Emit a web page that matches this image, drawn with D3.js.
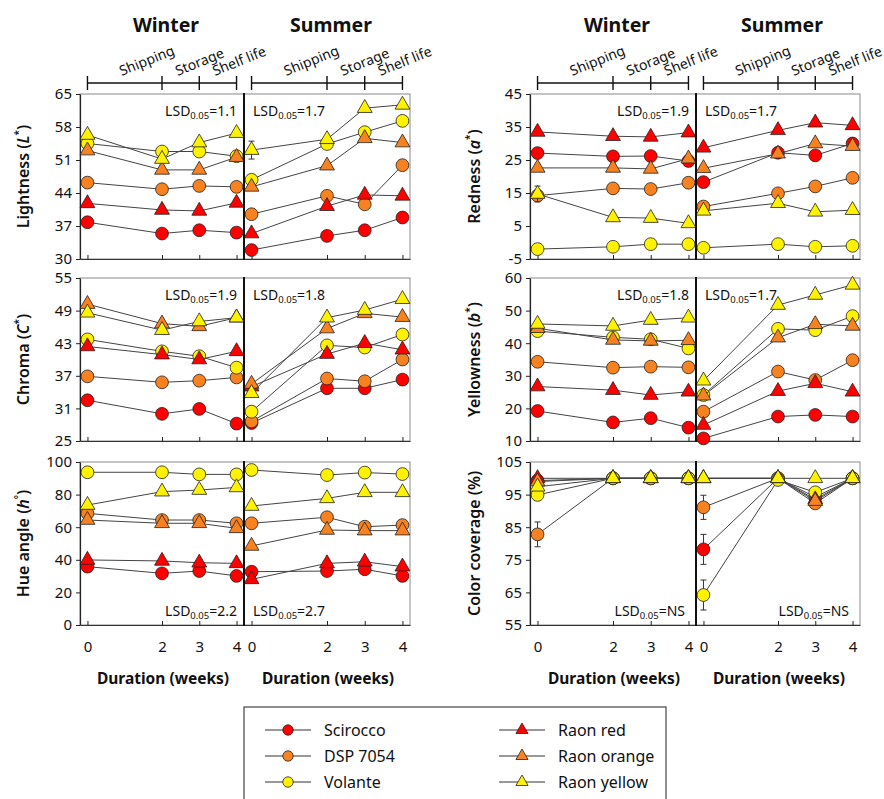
<!DOCTYPE html>
<html>
<head>
<meta charset="utf-8">
<script src="https://cdn.jsdelivr.net/npm/d3@7"></script>
<style>
  body { margin: 0; background: #fff; }
  svg { font-family: "Noto Sans", sans-serif; }
</style>
</head>
<body>
<svg id="chart" width="884" height="799"></svg>
<script>
var cultivars = ["Scirocco", "DSP 7054", "Volante", "Raon red", "Raon orange", "Raon yellow"];
var cultivarColors = ["#ff0000", "#f7821f", "#fff200", "#ff0000", "#f7821f", "#fff200"];
var cultivarShapes = ["circle", "circle", "circle", "triangle", "triangle", "triangle"];
var weeks = [0, 2, 3, 4];
var seasons = ["Winter", "Summer"];
var phases = ["Shipping", "Storage", "Shelf life"];

// one row per cultivar (same order as cultivars), one value per week
var lightnessWinter = [
  [37.8, 35.4, 36.1, 35.6],
  [46.2, 44.8, 45.5, 45.3],
  [54.5, 52.8, 52.8, 51.8],
  [41.8, 40.4, 40.2, 41.9],
  [53.0, 48.9, 48.9, 51.6],
  [56.3, 51.2, 54.7, 56.7]];
var lightnessSummer = [
  [31.9, 34.9, 36.1, 38.8],
  [39.5, 43.4, 41.6, 49.9],
  [46.8, 54.4, 56.9, 59.3],
  [35.4, 41.2, 43.6, 43.4],
  [45.3, 49.8, 55.6, 54.7],
  [53.1, 55.4, 62.0, 62.7]];
var chromaWinter = [
  [32.5, 30.0, 30.9, 28.2],
  [36.9, 35.8, 36.1, 36.7],
  [43.7, 41.5, 40.6, 38.5],
  [42.4, 40.9, 40.0, 41.5],
  [50.2, 46.6, 46.1, 47.7],
  [48.6, 45.4, 47.0, 47.7]];
var chromaSummer = [
  [28.3, 34.7, 34.7, 36.3],
  [28.6, 36.5, 36.0, 40.0],
  [30.4, 42.6, 42.2, 44.6],
  [35.0, 41.0, 43.0, 41.8],
  [35.5, 45.7, 48.5, 47.8],
  [33.8, 47.7, 49.1, 51.1]];
var hueWinter = [
  [35.8, 31.7, 33.1, 30.1],
  [68.5, 64.4, 64.4, 62.4],
  [93.7, 93.7, 92.4, 92.4],
  [39.9, 39.3, 38.2, 37.8],
  [64.4, 62.4, 62.4, 59.3],
  [73.6, 81.8, 82.8, 84.4]];
var hueSummer = [
  [32.7, 33.1, 34.2, 30.1],
  [62.4, 66.1, 60.3, 61.3],
  [95.1, 92.0, 93.5, 92.6],
  [28.0, 37.8, 38.8, 35.8],
  [48.5, 58.3, 57.9, 57.9],
  [73.0, 77.7, 81.4, 81.4]];
var rednessWinter = [
  [27.1, 26.1, 26.2, 24.7],
  [14.2, 16.4, 16.2, 18.1],
  [-2.0, -1.3, -0.5, -0.5],
  [33.5, 32.2, 32.0, 33.3],
  [22.6, 22.6, 22.3, 25.4],
  [14.7, 7.6, 7.4, 5.8]];
var rednessSummer = [
  [18.3, 27.2, 26.4, 30.0],
  [10.9, 14.9, 17.0, 19.6],
  [-1.6, -0.5, -1.3, -1.0],
  [28.7, 34.0, 36.3, 35.5],
  [22.5, 26.9, 30.0, 29.2],
  [9.6, 11.9, 9.3, 9.8]];
var yellownessWinter = [
  [19.2, 15.7, 17.0, 14.1],
  [34.3, 32.5, 32.8, 32.6],
  [43.7, 41.8, 41.2, 38.4],
  [26.7, 25.6, 24.1, 25.1],
  [44.6, 41.0, 40.7, 40.9],
  [45.9, 45.3, 47.1, 47.8]];
var yellownessSummer = [
  [10.8, 17.5, 18.0, 17.5],
  [19.0, 31.3, 28.7, 34.8],
  [24.1, 44.4, 44.0, 48.3],
  [14.9, 25.3, 27.7, 25.1],
  [23.9, 41.7, 45.8, 45.3],
  [28.5, 51.7, 54.8, 57.9]];
var coverageWinter = [
  [99.3, 100, 100, 100],
  [82.8, 100, 100, 100],
  [94.9, 100, 100, 100],
  [100, 100, 100, 100],
  [99.0, 100, 100, 100],
  [97.4, 100, 100, 100]];
var coverageSummer = [
  [78.2, 100, 94.2, 100],
  [91.1, 100, 92.3, 100],
  [64.2, 99.5, 95.7, 100],
  [100, 100, 93.5, 100],
  [100, 100, 93.0, 100],
  [100, 100, 100, 100]];

// [panel, season, cultivar index, week, half-width]
var errorBars = [
  ["lightness", 1, 5, 0, 1.9],
  ["redness", 0, 5, 0, 2.4],
  ["coverage", 0, 1, 0, 3.8],
  ["coverage", 1, 1, 0, 3.7],
  ["coverage", 1, 0, 0, 4.6],
  ["coverage", 1, 2, 0, 4.6]];

var lightnessTicks = [30, 37, 44, 51, 58, 65];
var chromaTicks = [25, 31, 37, 43, 49, 55];
var hueTicks = [0, 20, 40, 60, 80, 100];
var rednessTicks = [-5, 5, 15, 25, 35, 45];
var yellownessTicks = [10, 20, 30, 40, 50, 60];
var coverageTicks = [55, 65, 75, 85, 95, 105];

var lightnessLsd = ["1.1", "1.7"];
var chromaLsd = ["1.9", "1.8"];
var hueLsd = ["2.2", "2.7"];
var rednessLsd = ["1.9", "1.7"];
var yellownessLsd = ["1.8", "1.7"];
var coverageLsd = ["NS", "NS"];

(function () {

  var svg = d3.select("#chart");

  // layout
  var cols = [
    { seasons: [[80, 244], [244, 410]], labelX: 29 },
    { seasons: [[530, 696], [696, 860]], labelX: 480 }
  ];
  var rows = [[94, 259], [278, 441], [462, 625]];

  var panels = [
    { key: "lightness", col: 0, row: 0, ticks: lightnessTicks, data: [lightnessWinter, lightnessSummer], lsd: lightnessLsd,
      label: [["Lightness (", ""], ["L", "i"], ["*", "sup"], [")", ""]], lsdTop: true, lsdAnchor: ["end", "start"] },
    { key: "chroma", col: 0, row: 1, ticks: chromaTicks, data: [chromaWinter, chromaSummer], lsd: chromaLsd,
      label: [["Chroma (", ""], ["C", "i"], ["*", "sup"], [")", ""]], lsdTop: true, lsdAnchor: ["end", "start"] },
    { key: "hue", col: 0, row: 2, ticks: hueTicks, data: [hueWinter, hueSummer], lsd: hueLsd,
      label: [["Hue angle (", ""], ["h", "i"], ["°", "sup"], [")", ""]], lsdTop: false, lsdAnchor: ["end", "start"] },
    { key: "redness", col: 1, row: 0, ticks: rednessTicks, data: [rednessWinter, rednessSummer], lsd: rednessLsd,
      label: [["Redness (", ""], ["a", "i"], ["*", "sup"], [")", ""]], lsdTop: true, lsdAnchor: ["end", "start"] },
    { key: "yellowness", col: 1, row: 1, ticks: yellownessTicks, data: [yellownessWinter, yellownessSummer], lsd: yellownessLsd,
      label: [["Yellowness (", ""], ["b", "i"], ["*", "sup"], [")", ""]], lsdTop: true, lsdAnchor: ["end", "start"] },
    { key: "coverage", col: 1, row: 2, ticks: coverageTicks, data: [coverageWinter, coverageSummer], lsd: coverageLsd,
      label: [["Color coverage (%)", ""]], lsdTop: false, lsdAnchor: ["end", "end"] }
  ];

  var triangle = d3.symbol().type(d3.symbolTriangle).size(96);
  var triangleSmall = d3.symbol().type(d3.symbolTriangle).size(64);

  function xScale(col, s) {
    return d3.scaleLinear().domain([-0.2, 4.2]).range(cols[col].seasons[s]);
  }

  function drawMarker(sel, i, small) {
    if (cultivarShapes[i] === "circle") {
      sel.append("circle").attr("r", small ? 5.2 : 6.4);
    } else {
      sel.append("path").attr("d", small ? triangleSmall : triangle);
    }
    sel.selectAll("circle,path")
      .attr("fill", cultivarColors[i])
      .attr("stroke", "#222")
      .attr("stroke-width", 0.8);
  }

  panels.forEach(function (p) {
    var col = cols[p.col];
    var top = rows[p.row][0], bottom = rows[p.row][1];
    var left = col.seasons[0][0], right = col.seasons[1][1];
    var y = d3.scaleLinear().domain([p.ticks[0], p.ticks[p.ticks.length - 1]]).range([bottom, top]);
    var g = svg.append("g").attr("class", "panel " + p.key);

    // frame
    g.append("rect")
      .attr("x", left).attr("y", top)
      .attr("width", right - left).attr("height", bottom - top)
      .attr("fill", "none").attr("stroke", "#8a8a8a").attr("stroke-width", 1);

    // y axis
    var yAxis = g.append("g")
      .attr("transform", "translate(" + left + ",0)")
      .call(d3.axisLeft(y).tickValues(p.ticks).tickSize(4).tickSizeOuter(0).tickPadding(4)
        .tickFormat(function (d) { return String(d); }));
    yAxis.select(".domain").attr("stroke", "#222").attr("stroke-width", 1.2);
    yAxis.selectAll(".tick line").attr("stroke", "#222");
    yAxis.selectAll("text").attr("font-size", 15).attr("fill", "#111")
      .attr("font-family", "Noto Sans, sans-serif");

    // y label
    var lab = g.append("text")
      .attr("transform", "translate(" + col.labelX + "," + ((top + bottom) / 2) + ") rotate(-90)")
      .attr("text-anchor", "middle")
      .attr("font-size", 16).attr("font-weight", 600).attr("fill", "#111");
    p.label.forEach(function (part, k) {
      var t = lab.append("tspan").text(part[0]);
      if (part[1] === "i") t.attr("font-style", "italic");
      if (part[1] === "sup") t.attr("font-size", 10).attr("dy", -7);
      else if (k > 0 && p.label[k - 1][1] === "sup") t.attr("dy", 7);
    });

    seasons.forEach(function (season, s) {
      var x = xScale(p.col, s);

      // x axis
      var xAxis = g.append("g")
        .attr("transform", "translate(0," + bottom + ")")
        .call(d3.axisBottom(x).tickValues(weeks).tickSize(-4).tickSizeOuter(0).tickPadding(16)
          .tickFormat(p.row === 2 ? d3.format("d") : ""));
      xAxis.select(".domain").attr("stroke", "#333").attr("stroke-width", 1);
      xAxis.selectAll(".tick line").attr("stroke", "#222");
      xAxis.selectAll("text").attr("font-size", 15).attr("fill", "#111")
        .attr("font-family", "Noto Sans, sans-serif");

      var line = d3.line()
        .x(function (d, k) { return x(weeks[k]); })
        .y(function (d) { return y(d); });

      var series = g.selectAll(".series-" + s)
        .data(p.data[s])
        .enter().append("g")
        .attr("class", "series-" + s);

      series.append("path")
        .attr("d", function (d) { return line(d); })
        .attr("fill", "none")
        .attr("stroke", "#444")
        .attr("stroke-width", 1);

      // error bars
      errorBars.filter(function (e) { return e[0] === p.key && e[1] === s; }).forEach(function (e) {
        var v = p.data[s][e[2]][weeks.indexOf(e[3])];
        var cx = x(e[3]);
        var eb = series.filter(function (d, i) { return i === e[2]; });
        eb.append("line").attr("x1", cx).attr("x2", cx)
          .attr("y1", y(v - e[4])).attr("y2", y(v + e[4]))
          .attr("stroke", "#333").attr("stroke-width", 1);
        [v - e[4], v + e[4]].forEach(function (w) {
          eb.append("line").attr("x1", cx - 3).attr("x2", cx + 3)
            .attr("y1", y(w)).attr("y2", y(w))
            .attr("stroke", "#333").attr("stroke-width", 1);
        });
      });

      series.each(function (d, i) {
        var grp = d3.select(this);
        d.forEach(function (v, k) {
          var m = grp.append("g")
            .attr("transform", "translate(" + x(weeks[k]) + "," + y(v) + ")");
          drawMarker(m, i, false);
        });
      });

      // LSD label
      var anchor = p.lsdAnchor[s];
      var range = x.range();
      var lx = anchor === "end" ? range[1] - (p.lsdTop ? 7 : (p.col === 1 ? 11 : 7)) : range[0] + 9;
      var ly = p.lsdTop ? top + 22 : bottom - 9;
      var lsd = g.append("text")
        .attr("x", lx).attr("y", ly)
        .attr("text-anchor", anchor)
        .attr("font-size", 14).attr("fill", "#111");
      lsd.append("tspan").text("LSD");
      lsd.append("tspan").attr("font-size", 9.5).attr("dy", 3).text("0.05");
      lsd.append("tspan").attr("dy", -3).text("=" + p.lsd[s]);
    });

    // season divider
    g.append("line")
      .attr("x1", col.seasons[0][1]).attr("x2", col.seasons[0][1])
      .attr("y1", top - 1).attr("y2", bottom + 1)
      .attr("stroke", "#111").attr("stroke-width", 2);
  });

  // season titles and phase brackets
  cols.forEach(function (col, c) {
    seasons.forEach(function (season, s) {
      var x = xScale(c, s);
      var r = col.seasons[s];
      svg.append("text")
        .attr("x", (r[0] + r[1]) / 2 + 4).attr("y", 32)
        .attr("text-anchor", "middle")
        .attr("font-size", 19.5).attr("font-weight", 700).attr("fill", "#111")
        .text(season);

      var bracket = svg.append("g");
      bracket.append("line")
        .attr("x1", x(weeks[0])).attr("x2", x(weeks[weeks.length - 1]))
        .attr("y1", 83).attr("y2", 83)
        .attr("stroke", "#111").attr("stroke-width", 1.6);
      bracket.selectAll(".tk").data(weeks).enter().append("line")
        .attr("x1", function (d) { return x(d); }).attr("x2", function (d) { return x(d); })
        .attr("y1", 76).attr("y2", 90)
        .attr("stroke", "#111").attr("stroke-width", 1.4);
      phases.forEach(function (ph, k) {
        var mid = (x(weeks[k]) + x(weeks[k + 1])) / 2;
        bracket.append("text")
          .attr("transform", "translate(" + (mid - 3) + ",76) rotate(-22)")
          .attr("font-size", 14).attr("fill", "#111")
          .text(ph);
      });

      // duration label
      svg.append("text")
        .attr("x", (r[0] + r[1]) / 2 + 1).attr("y", 684)
        .attr("text-anchor", "middle")
        .attr("font-size", 15.5).attr("font-weight", 700).attr("fill", "#111")
        .text("Duration (weeks)");
    });
  });

  // legend
  var legend = svg.append("g").attr("class", "legend");
  legend.append("rect")
    .attr("x", 244).attr("y", 707).attr("width", 422).attr("height", 110)
    .attr("fill", "#fff").attr("stroke", "#444").attr("stroke-width", 1.2);

  var item = legend.selectAll(".item")
    .data(cultivars)
    .enter().append("g")
    .attr("class", "item")
    .attr("transform", function (d, i) {
      var cx = i < 3 ? 288 : 522;
      var cy = 730 + (i % 3) * 26;
      return "translate(" + cx + "," + cy + ")";
    });

  item.append("line")
    .attr("x1", -23).attr("x2", 23)
    .attr("stroke", "#333").attr("stroke-width", 1);
  item.each(function (d, i) {
    drawMarker(d3.select(this).append("g"), i, true);
  });
  item.append("text")
    .attr("x", 36).attr("y", 6)
    .attr("font-size", 16).attr("fill", "#111")
    .text(function (d) { return d; });

})();
</script>
</body>
</html>
